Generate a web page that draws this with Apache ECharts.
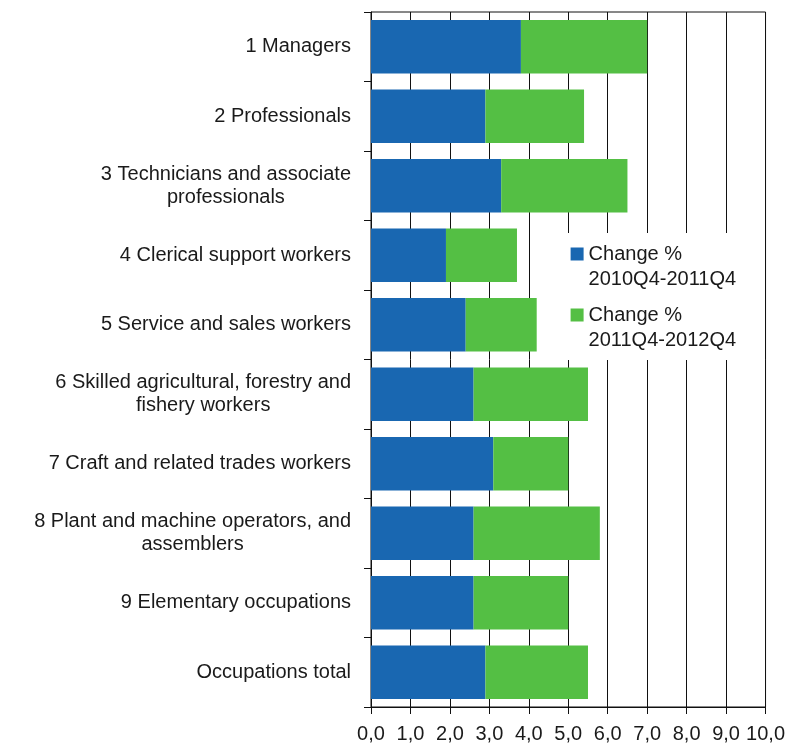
<!DOCTYPE html>
<html>
<head>
<meta charset="utf-8">
<script src="https://cdn.jsdelivr.net/npm/echarts@6/dist/echarts.min.js"></script>
<style>
  html, body { margin: 0; padding: 0; background: #fff; }
  #main { width: 788px; height: 744px; }
</style>
</head>
<body>
<div id="main"></div>
<script>
var categories = [
    '1 Managers',
    '2 Professionals',
    '3 Technicians and associate\nprofessionals',
    '4 Clerical support workers',
    '5 Service and sales workers',
    '6 Skilled agricultural, forestry and\nfishery workers',
    '7 Craft and related trades workers',
    '8 Plant and machine operators, and\nassemblers',
    '9 Elementary occupations',
    'Occupations total'
];
var change2011 = [3.8, 2.9, 3.3, 1.9, 2.4, 2.6, 3.1, 2.6, 2.6, 2.9];
var change2012 = [3.2, 2.5, 3.2, 1.8, 1.8, 2.9, 1.9, 3.2, 2.4, 2.6];
var seriesNames = ['Change %\n2010Q4-2011Q4', 'Change %\n2011Q4-2012Q4'];

var font = '"Liberation Sans", Arial, sans-serif';
var textColor = '#1a1a1a';

var chart = echarts.init(document.getElementById('main'));

var option = {
    animation: false,
    backgroundColor: '#fff',
    grid: {
        left: 371,
        right: 20,
        top: 12,
        bottom: 36,
        show: true,
        borderColor: '#111',
        borderWidth: 1
    },
    legend: {
        orient: 'vertical',
        left: 560,
        top: 233,
        itemWidth: 13,
        itemHeight: 13,
        itemGap: -14,
        padding: [-16.5, 20, 7.5, 10.6],
        backgroundColor: '#fff',
        icon: 'rect',
        // leading empty line puts the first text line level with the icon
        formatter: function (name) { return '\n' + name; },
        textStyle: {
            fontFamily: font,
            fontSize: 20,
            lineHeight: 25,
            color: textColor
        },
        data: seriesNames
    },
    xAxis: {
        type: 'value',
        min: 0,
        max: 10,
        interval: 1,
        axisLine: { show: true, lineStyle: { color: '#111', width: 1 } },
        axisTick: { show: true, length: 7, lineStyle: { color: '#111' } },
        splitLine: { show: true, lineStyle: { color: '#111', width: 1 } },
        axisLabel: {
            margin: 17,
            fontFamily: font,
            fontSize: 20,
            color: textColor,
            formatter: function (v) { return v.toFixed(1).replace('.', ','); }
        }
    },
    yAxis: {
        type: 'category',
        inverse: true,
        data: categories,
        axisLine: { show: true, lineStyle: { color: '#111', width: 1 } },
        axisTick: { show: true, length: 7, lineStyle: { color: '#111' } },
        splitLine: { show: false },
        axisLabel: {
            margin: 20,
            formatter: function (v) {
                return v.split('\n').map(function (s) { return '{c|' + s + '}'; }).join('\n');
            },
            rich: {
                c: {
                    align: 'center',
                    fontFamily: font,
                    fontSize: 20,
                    lineHeight: 23,
                    color: textColor
                }
            }
        }
    },
    series: [{
        name: seriesNames[0],
        type: 'bar',
        stack: 'total',
        barCategoryGap: '23%',
        itemStyle: { color: '#1967b1' },
        data: change2011
    }, {
        name: seriesNames[1],
        type: 'bar',
        stack: 'total',
        barCategoryGap: '23%',
        itemStyle: { color: '#54bf44' },
        data: change2012
    }]
};
chart.setOption(option);
</script>
</body>
</html>
